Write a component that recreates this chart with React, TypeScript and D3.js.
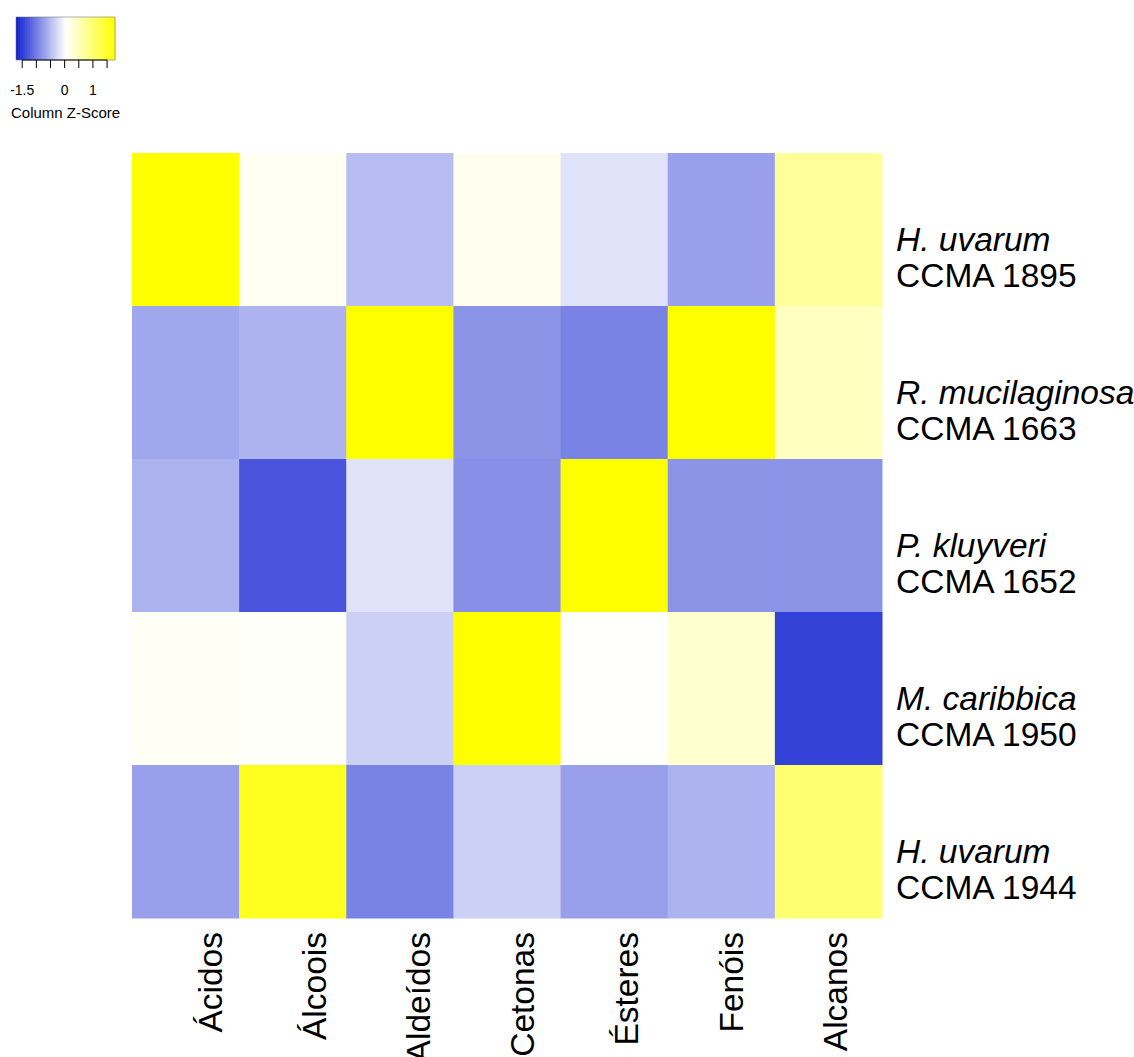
import React from "react";
import * as d3 from "d3";

const compounds = ["Ácidos", "Álcoois", "Aldeídos", "Cetonas", "Ésteres", "Fenóis", "Alcanos"];
const strainSpecies = ["H. uvarum", "R. mucilaginosa", "P. kluyveri", "M. caribbica", "H. uvarum"];
const strainCodes = ["CCMA 1895", "CCMA 1663", "CCMA 1652", "CCMA 1950", "CCMA 1944"];

const zHUvarum1895 = [1.78, 0.12, -0.49, 0.13, -0.2, -0.72, 0.73];
const zRMucilaginosa1663 = [-0.66, -0.57, 1.78, -0.81, -0.95, 1.78, 0.46];
const zPKluyveri1652 = [-0.57, -1.31, -0.2, -0.85, 1.78, -0.81, -0.81];
const zMCaribbica1950 = [0.1, 0.07, -0.34, 1.78, 0.06, 0.35, -1.46];
const zHUvarum1944 = [-0.72, 1.57, -0.95, -0.34, -0.72, -0.57, 1.01];

const zRows = [zHUvarum1895, zRMucilaginosa1663, zPKluyveri1652, zMCaribbica1950, zHUvarum1944];

const legendTicks = [-1.5, -1, -0.5, 0, 0.5, 1, 1.5];
const legendLabels = [-1.5, 0, 1];

const zMin = -1.72;
const zMax = 1.78;
const zMid = (zMin + zMax) / 2;

const FONT = "'Liberation Sans', Arial, Helvetica, sans-serif";

export default function App() {
  const W = 1134;
  const H = 1057;

  const color = d3
    .scaleLinear<string>()
    .domain([zMin, zMid, zMax])
    .range(["#1020D0", "#FFFFFF", "#FFFF00"])
    .interpolate(d3.interpolateRgb)
    .clamp(true);

  const x = d3.scaleBand<string>().domain(compounds).range([132, 882]).padding(0);
  const y = d3.scaleBand<number>().domain(d3.range(strainCodes.length)).range([153, 918]).padding(0);
  const labelX = d3.scalePoint<string>().domain(compounds).range([210, 835]);

  const lx = d3.scaleLinear().domain([zMin, zMax]).range([16, 115]);
  const nSteps = 140;
  const steps = d3.range(nSteps).map((i) => zMin + ((zMax - zMin) * i) / nSteps);
  const stepW = (lx(zMax) - lx(zMin)) / nSteps;

  const fs = 33.5;

  return (
    <div style={{ position: "absolute", left: 0, top: 0, background: "#fff" }}>
      <svg width={W} height={H} style={{ display: "block", fontFamily: FONT }}>
        <rect x={0} y={0} width={W} height={H} fill="#fff" />
        {/* legend */}
        <g>
          {steps.map((s, i) => (
            <rect key={i} x={lx(s)} y={17} width={stepW + 0.6} height={43} fill={color(s + (zMax - zMin) / nSteps / 2)} />
          ))}
          <rect x={lx(zMin)} y={17} width={lx(zMax) - lx(zMin)} height={43} fill="none" stroke="#666" strokeWidth={0.5} />
          <line x1={lx(-1.5)} x2={lx(1.5)} y1={60} y2={60} stroke="#000" strokeWidth={1} />
          {legendTicks.map((t) => (
            <line key={t} x1={lx(t)} x2={lx(t)} y1={60} y2={68} stroke="#000" strokeWidth={1} />
          ))}
          {legendLabels.map((t) => (
            <text key={t} x={lx(t)} y={95} fontSize={14} textAnchor="middle" fill="#000">
              {t}
            </text>
          ))}
          <text x={11} y={118} fontSize={15} fill="#000">
            Column Z-Score
          </text>
        </g>
        {/* heatmap cells */}
        <g>
          {zRows.map((row, ri) =>
            row.map((v, ci) => (
              <rect
                key={`${ri}-${ci}`}
                x={x(compounds[ci])!}
                y={y(ri)!}
                width={x.bandwidth() + 0.5}
                height={y.bandwidth() + 0.5}
                fill={color(v)}
              />
            ))
          )}
        </g>
        {/* row labels */}
        <g>
          {strainCodes.map((code, ri) => (
            <g key={code}>
              <text x={896} y={y(ri)! + 98} fontSize={fs} fontStyle="italic" fill="#000">
                {strainSpecies[ri]}
              </text>
              <text x={896} y={y(ri)! + 134} fontSize={fs} fill="#000">
                {code}
              </text>
            </g>
          ))}
        </g>
        {/* column labels */}
        <g>
          {compounds.map((c) => (
            <text
              key={c}
              transform={`translate(${labelX(c)},${932}) rotate(-90)`}
              textAnchor="end"
              dy="0.35em"
              fontSize={fs}
              fill="#000"
            >
              {c}
            </text>
          ))}
        </g>
      </svg>
    </div>
  );
}
